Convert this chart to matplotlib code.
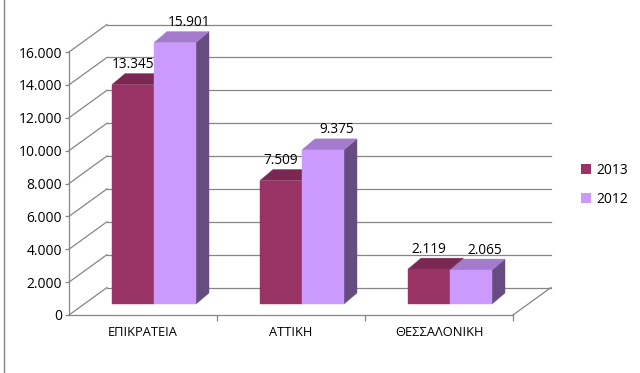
import numpy as np
import matplotlib.pyplot as plt
from matplotlib.patches import Polygon, Patch
from matplotlib.lines import Line2D
from matplotlib.ticker import FuncFormatter

# data
categories = ['ΕΠΙΚΡΑΤΕΙΑ', 'ΑΤΤΙΚΗ', 'ΘΕΣΣΑΛΟΝΙΚΗ']
values_2013 = [13345, 7509, 2119]
values_2012 = [15901, 9375, 2065]
series_names = ['2013', '2012']
y_ticks = np.arange(0, 16001, 2000)

plt.rcParams['font.family'] = ['Open Sans', 'DejaVu Sans']

W, H = 640, 373
fig = plt.figure(figsize=(W / 100, H / 100), dpi=100)
box = [69 / W, 58 / H, 444 / W, 263 / H]
ax = fig.add_axes(box)
xmin, xmax, ymax = -0.5, 2.5, 16000
ax.set_xlim(xmin, xmax)
ax.set_ylim(0, ymax)

# one pixel in data units
ux = (xmax - xmin) / (box[2] * W)
uy = ymax / (box[3] * H)

grid_col = '#868686'
# depth of the walls, bar placement inside the depth
wdx, wdy = 38 * ux, 27.5 * uy
box_x, box_y = 11 * ux, 11 * uy
bdx, bdy = 13 * ux, 11 * uy
bw = 42 * ux

# back wall gridlines and left wall diagonals (behind the bars)
for v in y_ticks:
    ax.plot([xmin + wdx, xmax + wdx], [v + wdy, v + wdy], color=grid_col, lw=0.9,
            clip_on=False, zorder=0.5)
    ax.plot([xmin, xmin + wdx], [v, v + wdy], color=grid_col, lw=0.9, clip_on=False, zorder=0.5)
ax.plot([xmax, xmax + wdx], [0, wdy], color=grid_col, lw=0.9, clip_on=False, zorder=0.5)

colors = {
    '2013': ('#993366', '#7a2852', '#66223f'),
    '2012': ('#cc99ff', '#a37acc', '#664c80'),
}
label_dx = {'2013': 0, '2012': 14}


def bar3d(x0, h, cols):
    front, top, side = cols
    x1 = x0 + bw
    y0 = box_y
    y1 = box_y + h
    faces = [
        ([(x1, y0), (x1 + bdx, y0 + bdy), (x1 + bdx, y1 + bdy), (x1, y1)], side),
        ([(x0, y1), (x1, y1), (x1 + bdx, y1 + bdy), (x0 + bdx, y1 + bdy)], top),
        ([(x0, y0), (x1, y0), (x1, y1), (x0, y1)], front),
    ]
    for pts, c in faces:
        ax.add_patch(Polygon(pts, closed=True, facecolor=c, edgecolor=c, lw=0.3,
                             clip_on=False, zorder=2))
    return x0 + bw / 2, y1


for i in range(len(categories)):
    for name, vals, shift in (('2013', values_2013, -bw), ('2012', values_2012, 0)):
        cx, top_y = bar3d(i + shift + box_x, vals[i], colors[name])
        txt = f"{vals[i]:,}".replace(',', '.')
        ax.annotate(txt, xy=(cx, top_y), xytext=(label_dx[name], 20), textcoords='offset pixels',
                    ha='center', va='center', fontsize=9.8, annotation_clip=False)

# axes styling
for s in ('top', 'right'):
    ax.spines[s].set_visible(False)
for s in ('left', 'bottom'):
    ax.spines[s].set_color(grid_col)
    ax.spines[s].set_linewidth(0.9)
ax.set_yticks(y_ticks)
ax.yaxis.set_major_formatter(FuncFormatter(lambda v, p: f"{int(v):,}".replace(',', '.')))
ax.tick_params(axis='y', length=3, width=0.9, color=grid_col, pad=2, labelsize=10)
ax.set_xticks(range(len(categories)))
ax.set_xticklabels(categories)
ax.tick_params(axis='x', which='major', length=0, pad=8, labelsize=9.3)
ax.set_xticks([0.5, 1.5, 2.5], minor=True)
ax.tick_params(axis='x', which='minor', length=4, width=0.9, color=grid_col)
ax.patch.set_visible(False)

handles = [Patch(facecolor=colors[n][0], edgecolor='none') for n in series_names]
fig.legend(handles, series_names, loc='upper left', bbox_to_anchor=(581 / W, 1 - 163 / H),
           frameon=False, handlelength=0.75, handleheight=0.75, handletextpad=0.35,
           labelspacing=1.0, fontsize=10, borderpad=0, borderaxespad=0)

fig.add_artist(Line2D([4 / W, 4 / W], [0, 1], color=grid_col, lw=1, transform=fig.transFigure))

fig.savefig('out.png', dpi=100)
